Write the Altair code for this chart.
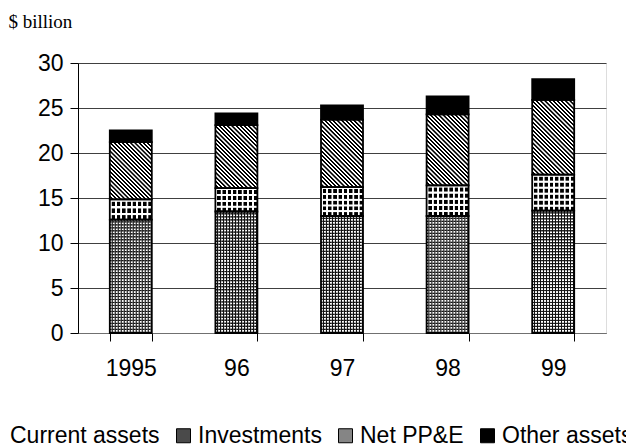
import altair as alt
import pandas as pd

years = ["1995", "96", "97", "98", "99"]
series = ["Current assets", "Investments", "Net PP&E", "Other assets"]
current_assets = [12.6, 13.5, 13.0, 13.0, 13.6]
investments = [2.25, 2.6, 3.2, 3.4, 4.0]
net_ppe = [6.35, 7.0, 7.5, 7.9, 8.3]
other_assets = [1.3, 1.3, 1.6, 2.0, 2.3]
legend_grays = ["#a8a8a8", "#4a4a4a", "#858585", "#000000"]

# build stacked table
rows = []
for i, y in enumerate(years):
    start = 0.0
    for s, vals in zip(series, [current_assets, investments, net_ppe, other_assets]):
        v = vals[i]
        rows.append({"year": y, "series": s, "value": v, "start": start, "end": start + v})
        start += v
df = pd.DataFrame(rows)

# geometry used only to size pattern stripes
PLOT_W, PLOT_H = 528, 270
BAR_W = 42.0
STEP = PLOT_W / len(years)
PAD_IN = 1 - BAR_W / STEP
PX_PER_UNIT = PLOT_H / 30.0


def stripes(n, on_frac, c_on, c_off, x1, y1, x2, y2, soft=0.0):
    stops = []
    n = max(1, int(round(n)))
    r = soft / 2.0

    def add(o, c):
        o = min(1.0, max(0.0, o / n))
        stops.append({"offset": o, "color": c})

    for k in range(n):
        add(k + r, c_on)
        add(k + on_frac - r, c_on)
        add(k + on_frac + r, c_off)
        add(k + 1 - r, c_off)
    return {"gradient": "linear", "x1": x1, "y1": y1, "x2": x2, "y2": y2, "stops": stops}


CLEAR = "rgba(255,255,255,0)"

base = alt.Chart(df)
x_enc = alt.X(
    "year:N",
    sort=years,
    scale=alt.Scale(paddingInner=PAD_IN, paddingOuter=PAD_IN / 2),
    axis=alt.Axis(
        title=None, labelAngle=0, tickBand="extent", domainColor="#707070",
        tickColor="#000000", tickSize=8, labelPadding=16, labelFontSize=23,
        labelFont="Liberation Sans", labelColor="#000000", grid=False,
    ),
)
y_enc = alt.Y(
    "start:Q",
    scale=alt.Scale(domain=[0, 30], nice=False),
    axis=alt.Axis(
        values=[0, 5, 10, 15, 20, 25, 30], title="$ billion", titleAngle=0,
        titleAlign="left", titleBaseline="alphabetic", titleX=-70, titleY=-36,
        titleFont="Liberation Serif", titleFontSize=19, titleFontWeight="normal",
        titleColor="#000000", domainColor="#000000", tickColor="#000000",
        tickSize=8, labelPadding=7, labelFontSize=23, labelFont="Liberation Sans",
        labelColor="#000000", grid=True, gridColor="#404040", gridWidth=1,
    ),
)


def seg(year, s):
    return base.transform_filter(
        (alt.datum.year == year) & (alt.datum.series == s)
    )


layers = []
for i, yr in enumerate(years):
    # current assets: fine grid (horizontal lines base)
    h = current_assets[i] * PX_PER_UNIT
    layers.append(
        seg(yr, "Current assets").mark_bar(
            fill=stripes(h / 3.0, 0.55, "#ffffff", "#111111", 0, 0, 0, 1, soft=0.25)
        ).encode(x=x_enc, y=y_enc, y2="end:Q")
    )
    # investments: black rows
    h = investments[i] * PX_PER_UNIT
    layers.append(
        seg(yr, "Investments").mark_bar(
            fill=stripes(h / 6.0, 0.35, "#ffffff", "#000000", 0, 0, 0, 1, soft=0.1)
        ).encode(x=x_enc, y=y_enc, y2="end:Q")
    )
    # net PP&E: diagonal hatch
    h = net_ppe[i] * PX_PER_UNIT
    w = BAR_W
    a = (w + h) / (w * w + h * h)
    layers.append(
        seg(yr, "Net PP&E").mark_bar(
            fill=stripes((w + h) / 4.2, 0.5, "#ffffff", "#000000", 0, 1, a * w, 1 - a * h, soft=0.1)
        ).encode(x=x_enc, y=y_enc, y2="end:Q")
    )

# vertical overlays
layers.append(
    base.transform_filter(alt.datum.series == "Current assets").mark_bar(
        fill=stripes(BAR_W / 3.0, 0.55, CLEAR, "#111111", 0, 0, 1, 0, soft=0.25)
    ).encode(x=x_enc, y=y_enc, y2="end:Q")
)
layers.append(
    base.transform_filter(alt.datum.series == "Investments").mark_bar(
        fill=stripes(8, 0.35, "#ffffff", CLEAR, 0, 0, 1, 0, soft=0.1)
    ).encode(x=x_enc, y=y_enc, y2="end:Q")
)
layers.append(
    base.transform_filter(alt.datum.series == "Other assets").mark_bar(
        fill="#000000"
    ).encode(x=x_enc, y=y_enc, y2="end:Q")
)
# outlines
layers.append(
    base.mark_bar(fill="transparent", stroke="#000000", strokeWidth=1.8).encode(
        x=x_enc, y=y_enc, y2="end:Q"
    )
)
# legend carrier
layers.append(
    base.mark_bar(opacity=0).encode(
        x=x_enc, y=y_enc, y2="end:Q",
        color=alt.Color(
            "series:N",
            sort=series,
            scale=alt.Scale(domain=series, range=legend_grays),
            legend=alt.Legend(
                title=None, orient="none", direction="horizontal", legendX=-94,
                legendY=361, symbolType="square", symbolSize=196,
                symbolOpacity=1, symbolStrokeColor="#000000", symbolStrokeWidth=1,
                labelFont="Liberation Sans", labelFontSize=23, labelColor="#000000",
                labelOffset=3, columnPadding=12, labelLimit=400,
            ),
        ),
    )
)

chart = alt.layer(*layers).properties(
    width=PLOT_W,
    height=PLOT_H,
    autosize=alt.AutoSizeParams(type="none"),
    padding={"left": 70, "top": 55, "right": 20, "bottom": 114},
).configure_view(stroke="#808080", strokeWidth=1).configure(background="white")

chart.save("out.html", embed_options={"renderer": "svg", "actions": False})
